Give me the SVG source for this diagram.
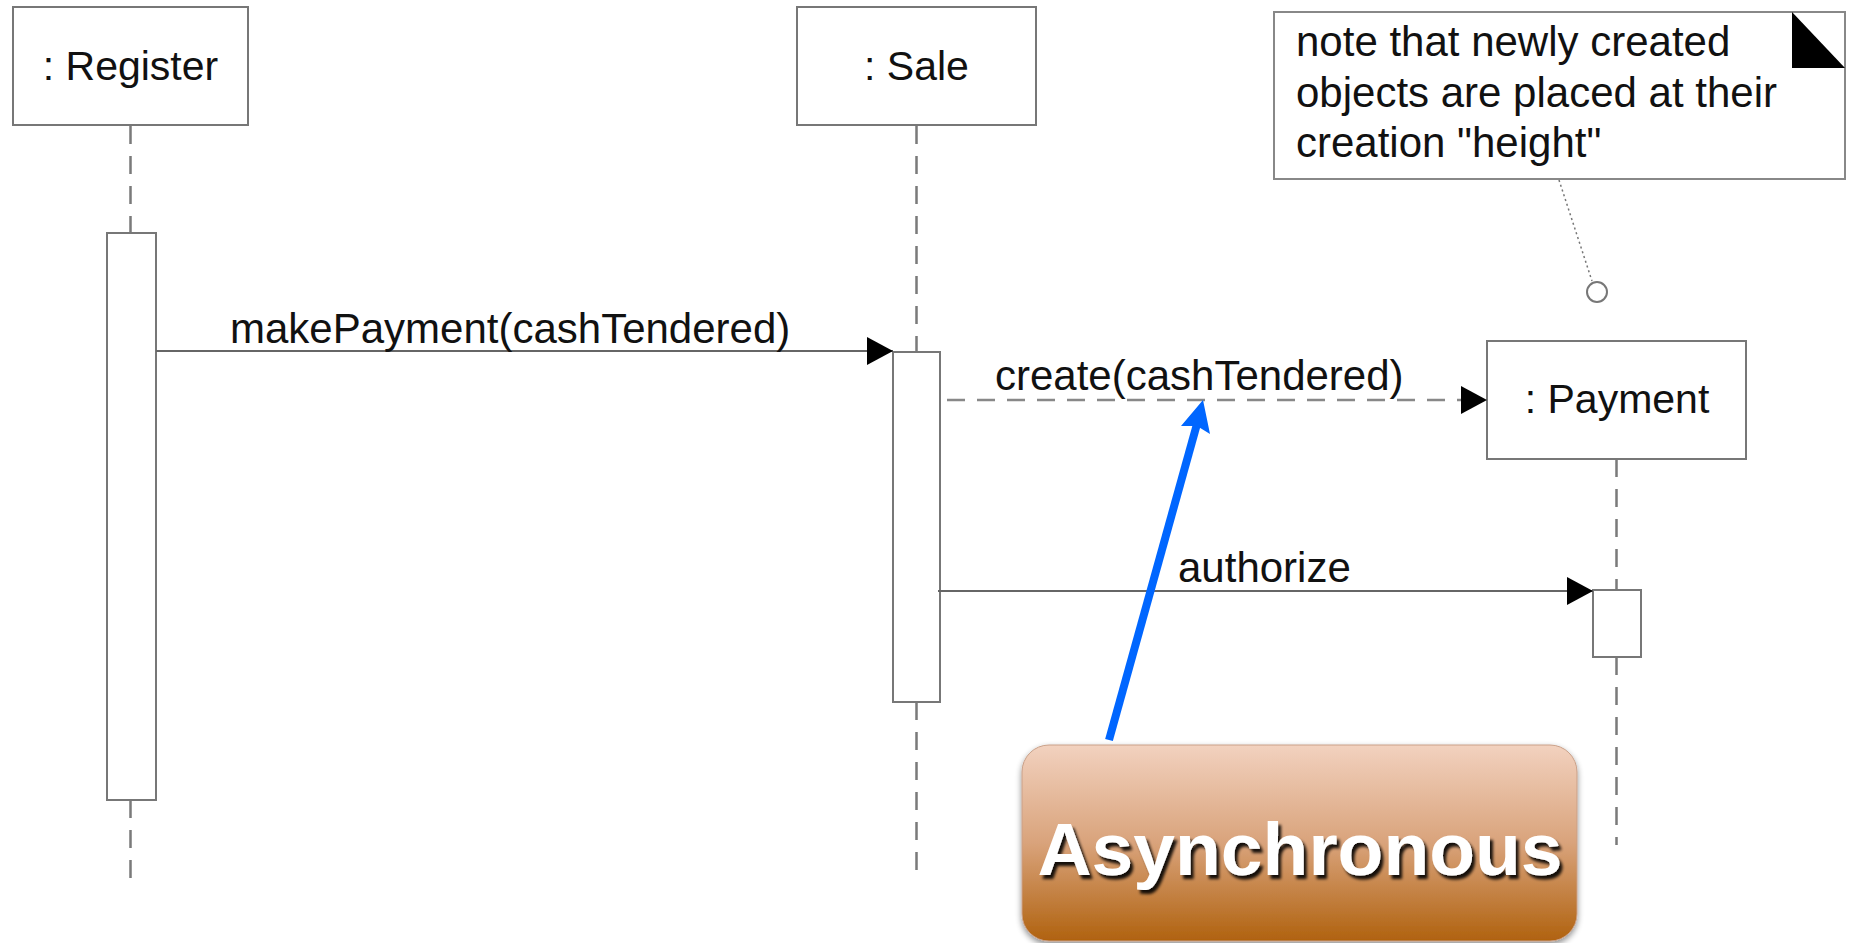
<svg xmlns="http://www.w3.org/2000/svg" width="1849" height="943" viewBox="0 0 1849 943">
  <defs>
    <style>
      .obj { fill: #fff; stroke: #777; stroke-width: 2; }
      .act { fill: #fff; stroke: #777; stroke-width: 2; }
      .life { stroke: #7a7a7a; stroke-width: 2.5; stroke-dasharray: 18 12; fill: none; }
      .msg { stroke: #666; stroke-width: 2; fill: none; }
      .msg-dash { stroke: #888; stroke-width: 2.5; stroke-dasharray: 18 12; fill: none; }
      .name { font-family: "Liberation Sans", Arial, sans-serif; font-size: 41px; fill: #111; text-anchor: middle; }
      .label { font-family: "Liberation Sans", Arial, sans-serif; font-size: 42px; fill: #111; }
      .callout-text { font-family: "Liberation Sans", Arial, sans-serif; font-size: 75px; font-weight: bold; fill: #fff; text-anchor: middle; }
    </style>
    <marker id="head" viewBox="0 0 26 28" refX="26" refY="14" markerWidth="26" markerHeight="28" markerUnits="userSpaceOnUse" orient="auto">
      <path d="M0,0 L26,14 L0,28 Z" fill="#000"/>
    </marker>
    <linearGradient id="calloutFill" x1="0" y1="0" x2="0" y2="1">
      <stop offset="0" stop-color="#f2d2bf"/>
      <stop offset="0.08" stop-color="#eecab4"/>
      <stop offset="0.5" stop-color="#d9a37b"/>
      <stop offset="1" stop-color="#b0620f"/>
    </linearGradient>
    <filter id="boxShadow" x="-10%" y="-10%" width="120%" height="130%">
      <feGaussianBlur in="SourceAlpha" stdDeviation="3"/>
      <feOffset dx="0" dy="3" result="b"/>
      <feComponentTransfer><feFuncA type="linear" slope="0.45"/></feComponentTransfer>
      <feMerge><feMergeNode/><feMergeNode in="SourceGraphic"/></feMerge>
    </filter>
    <filter id="textShadow" x="-5%" y="-20%" width="110%" height="140%">
      <feGaussianBlur in="SourceAlpha" stdDeviation="1.5"/>
      <feOffset dx="3" dy="4" result="s"/>
      <feComponentTransfer><feFuncA type="linear" slope="0.9"/></feComponentTransfer>
      <feMerge><feMergeNode/><feMergeNode in="SourceGraphic"/></feMerge>
    </filter>
  </defs>

  <rect width="1849" height="943" fill="#fff"/>

  <!-- lifelines -->
  <g id="lifelines">
    <line class="life" x1="130.5" y1="126" x2="130.5" y2="233"/>
    <line class="life" x1="130.5" y1="800" x2="130.5" y2="879"/>
    <line class="life" x1="916.5" y1="126" x2="916.5" y2="352"/>
    <line class="life" x1="916.5" y1="702" x2="916.5" y2="879"/>
    <line class="life" x1="1616.5" y1="459" x2="1616.5" y2="590"/>
    <line class="life" x1="1616.5" y1="657" x2="1616.5" y2="845"/>
  </g>

  <!-- participants -->
  <g id="register">
    <rect class="obj" x="13" y="7" width="235" height="118"/>
    <text class="name" x="130.5" y="80">: Register</text>
    <rect class="act" x="107" y="233" width="49" height="567"/>
  </g>

  <g id="sale">
    <rect class="obj" x="797" y="7" width="239" height="118"/>
    <text class="name" x="916.5" y="80">: Sale</text>
    <rect class="act" x="893" y="352" width="47" height="350"/>
  </g>

  <g id="payment">
    <rect class="obj" x="1487" y="341" width="259" height="118"/>
    <text class="name" x="1617" y="413">: Payment</text>
    <rect class="act" x="1593" y="590" width="48" height="67"/>
  </g>

  <!-- note with folded corner -->
  <g id="note">
    <rect x="1274" y="12" width="571" height="167" fill="#fff" stroke="#888" stroke-width="2"/>
    <path d="M1792,12 L1845,68 L1792,68 Z" fill="#000"/>
    <text class="label" x="1296" y="56">note that newly created</text>
    <text class="label" x="1296" y="107">objects are placed at their</text>
    <text class="label" x="1296" y="157">creation "height"</text>
  </g>

  <!-- messages -->
  <g id="connectors">
    <line class="msg" x1="156" y1="351" x2="893" y2="351" marker-end="url(#head)"/>
    <text class="label" x="230" y="343">makePayment(cashTendered)</text>

    <line class="msg-dash" x1="947" y1="400" x2="1487" y2="400" marker-end="url(#head)"/>
    <text class="label" x="995" y="390">create(cashTendered)</text>

    <line class="msg" x1="938" y1="591" x2="1593" y2="591" marker-end="url(#head)"/>
    <text class="label" x="1178" y="582">authorize</text>

    <!-- note anchor -->
    <line x1="1559" y1="180" x2="1592" y2="281" stroke="#777" stroke-width="1.5" stroke-dasharray="2 3"/>
    <circle cx="1597" cy="292" r="10" fill="#fff" stroke="#777" stroke-width="2"/>

    <!-- callout pointer -->
    <line x1="1109" y1="740" x2="1197" y2="424" stroke="#0066ff" stroke-width="8"/>
    <path d="M1203,400 L1210,434 L1197,426 L1181,426 Z" fill="#0066ff"/>
  </g>

  <!-- callout badge -->
  <g id="callout">
    <rect x="1022" y="745" width="555" height="196" rx="27" ry="27" fill="url(#calloutFill)" stroke="#c9a088" stroke-width="1" filter="url(#boxShadow)"/>
    <text class="callout-text" x="1300" y="875" filter="url(#textShadow)">Asynchronous</text>
  </g>
</svg>
